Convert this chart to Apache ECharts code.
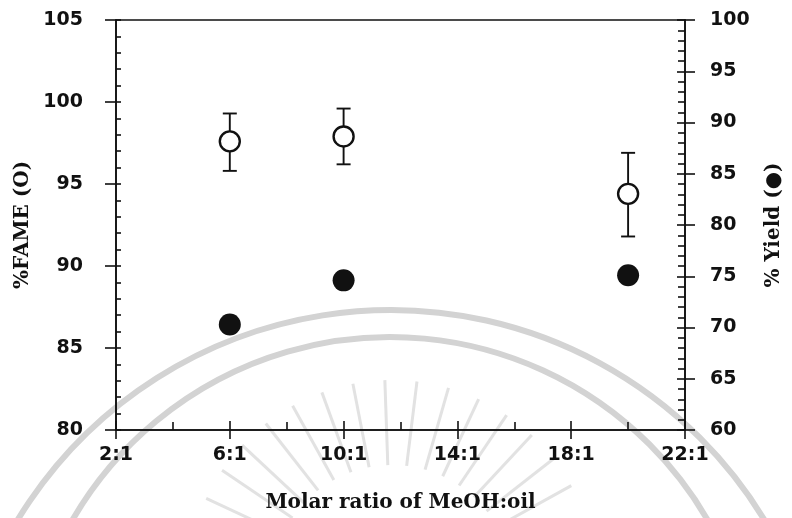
<!DOCTYPE html>
<html>
<head>
<meta charset="utf-8">
<title>FAME and yield vs. molar ratio</title>
<script src="https://cdn.jsdelivr.net/npm/echarts@6/dist/echarts.min.js"></script>
<style>
  html, body { margin: 0; padding: 0; background: #fff; }
  #chart { width: 792px; height: 518px; }
</style>
</head>
<body>
<div id="chart"></div>
<script>
// Molar ratio of MeOH:oil (x:1)
const ratios = [6, 10, 20];
// %FAME: mean with lower / upper error limits
const fameMean = [97.6, 97.9, 94.4];
const fameLow  = [95.8, 96.2, 91.8];
const fameHigh = [99.3, 99.6, 96.9];
// % Yield
const yieldPct = [70.3, 74.6, 75.1];

// Axis ranges and tick steps
const xRange = [2, 22], xStep = 4;
const fameRange = [80, 105], fameStep = 5;
const yieldRange = [60, 100], yieldStep = 5;

const fontSans = 'DejaVu Sans';
const fontSerif = 'DejaVu Serif';
const ink = '#111';

const chart = echarts.init(document.getElementById('chart'), null, { renderer: 'canvas' });

const tickLabel = {
  color: ink, fontFamily: fontSans, fontSize: 19, fontWeight: 'bold'
};
const axisTitle = {
  color: ink, fontFamily: fontSerif, fontWeight: 'bold', fontSize: 20
};
const lineStyle = { color: ink, width: 1.6 };

// Pale watermark arcs and rays drawn behind the plot
function watermark() {
  const items = [];
  const arcStyle = { stroke: '#d3d3d3', lineWidth: 6, fill: null };
  items.push({ type: 'arc', z: -10, silent: true,
    shape: { cx: 391, cy: 747, r: 437, startAngle: -Math.PI * 0.93, endAngle: -Math.PI * 0.07 },
    style: arcStyle });
  items.push({ type: 'arc', z: -10, silent: true,
    shape: { cx: 390, cy: 704, r: 367, startAngle: -Math.PI * 0.97, endAngle: -Math.PI * 0.03 },
    style: arcStyle });
  const cx = 392, cy = 585;
  for (let a = -155; a <= -25; a += 9) {
    const t = a * Math.PI / 180;
    items.push({ type: 'line', z: -10, silent: true,
      shape: { x1: cx + 120 * Math.cos(t), y1: cy + 120 * Math.sin(t),
               x2: cx + 205 * Math.cos(t), y2: cy + 205 * Math.sin(t) },
      style: { stroke: '#e2e2e2', lineWidth: 3 } });
  }
  return items;
}

const option = {
  backgroundColor: '#fff',
  animation: false,
  graphic: watermark(),
  grid: {
    left: 116, right: 105, top: 20, bottom: 87,
    show: true, borderColor: ink, borderWidth: 1.6, backgroundColor: 'transparent'
  },
  xAxis: [
    {
      type: 'value', position: 'bottom',
      min: xRange[0], max: xRange[1], interval: xStep,
      name: 'Molar ratio of MeOH:oil', nameLocation: 'middle', nameGap: 63,
      nameTextStyle: axisTitle,
      axisLine: { show: true, lineStyle: lineStyle },
      axisTick: { show: true, inside: false, length: 9, lineStyle: lineStyle },
      axisLabel: Object.assign({ margin: 16, formatter: v => v + ':1' }, tickLabel),
      splitLine: { show: false }
    },
    {
      type: 'value', position: 'bottom',
      min: xRange[0], max: xRange[1], interval: xStep,
      axisLine: { show: false },
      axisTick: { show: true, inside: true, length: 9, lineStyle: lineStyle },
      minorTick: { show: true, splitNumber: 2, length: 8, lineStyle: lineStyle },
      axisLabel: { show: false },
      splitLine: { show: false }
    }
  ],
  yAxis: [
    {
      type: 'value', position: 'left',
      min: fameRange[0], max: fameRange[1], interval: fameStep,
      name: '%FAME (O)', nameLocation: 'middle', nameGap: 80, nameRotate: 90,
      nameTextStyle: axisTitle,
      axisLine: { show: true, lineStyle: lineStyle },
      axisTick: { show: true, inside: false, length: 11, lineStyle: lineStyle },
      axisLabel: Object.assign({ margin: 33 }, tickLabel),
      splitLine: { show: false }
    },
    {
      type: 'value', position: 'right',
      min: yieldRange[0], max: yieldRange[1], interval: yieldStep,
      name: '% Yield (●)', nameLocation: 'middle', nameGap: 79, nameRotate: 90,
      nameTextStyle: axisTitle,
      axisLine: { show: true, lineStyle: lineStyle },
      axisTick: { show: true, inside: false, length: 10, lineStyle: lineStyle },
      axisLabel: Object.assign({ margin: 25 }, tickLabel),
      splitLine: { show: false }
    },
    {
      type: 'value', position: 'left',
      min: fameRange[0], max: fameRange[1], interval: fameStep,
      axisLine: { show: false },
      axisTick: { show: true, inside: true, length: 5, lineStyle: lineStyle },
      minorTick: { show: true, splitNumber: 5, length: 5, lineStyle: lineStyle },
      axisLabel: { show: false },
      splitLine: { show: false }
    },
    {
      type: 'value', position: 'right',
      min: yieldRange[0], max: yieldRange[1], interval: yieldStep,
      axisLine: { show: false },
      axisTick: { show: true, inside: true, length: 8, lineStyle: lineStyle },
      minorTick: { show: true, splitNumber: 5, length: 7, lineStyle: lineStyle },
      axisLabel: { show: false },
      splitLine: { show: false }
    }
  ],
  series: [
    {
      // error bars for %FAME
      type: 'custom', name: 'FAME error',
      xAxisIndex: 0, yAxisIndex: 0,
      data: ratios.map((r, i) => [r, fameLow[i], fameHigh[i]]),
      encode: { x: 0, y: [1, 2] },
      renderItem: function (params, api) {
        const lo = api.coord([api.value(0), api.value(1)]);
        const hi = api.coord([api.value(0), api.value(2)]);
        const cap = 7;
        const st = { stroke: ink, lineWidth: 1.9 };
        return {
          type: 'group',
          children: [
            { type: 'line', shape: { x1: lo[0], y1: lo[1], x2: hi[0], y2: hi[1] }, style: st },
            { type: 'line', shape: { x1: lo[0] - cap, y1: lo[1], x2: lo[0] + cap, y2: lo[1] }, style: st },
            { type: 'line', shape: { x1: hi[0] - cap, y1: hi[1], x2: hi[0] + cap, y2: hi[1] }, style: st }
          ]
        };
      },
      z: 2
    },
    {
      type: 'scatter', name: '%FAME',
      xAxisIndex: 0, yAxisIndex: 0,
      data: ratios.map((r, i) => [r, fameMean[i]]),
      symbol: 'circle', symbolSize: 20,
      itemStyle: { color: '#fff', borderColor: ink, borderWidth: 2.4, opacity: 1 },
      z: 3
    },
    {
      type: 'scatter', name: '% Yield',
      xAxisIndex: 0, yAxisIndex: 1,
      data: ratios.map((r, i) => [r, yieldPct[i]]),
      symbol: 'circle', symbolSize: 22,
      itemStyle: { color: ink, opacity: 1 },
      z: 3
    }
  ]
};

chart.setOption(option);
</script>
</body>
</html>
